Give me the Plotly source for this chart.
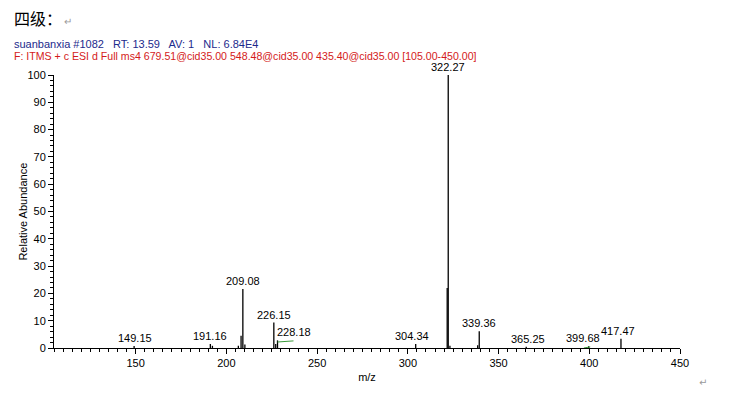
import plotly.graph_objects as go

# peak list (m/z, relative abundance)
peak_mz = [149.15, 191.16, 192.3, 206.6, 208.1, 209.08, 210.2, 226.15, 227.2,
           228.18, 304.34, 321.7, 322.27, 323.2, 338.5, 339.36, 365.25, 399.68, 417.47]
peak_int = [0.7, 1.5, 0.8, 0.8, 4.5, 21.6, 1.3, 9.3, 1.5,
            2.8, 1.5, 22.0, 100.0, 0.8, 1.0, 6.1, 0.5, 0.6, 3.4]

# labelled peaks and label offsets (px)
label_mz = [149.15, 191.16, 209.08, 226.15, 228.18, 304.34, 322.27, 339.36, 365.25, 399.68, 417.47]
label_int = [0.7, 1.5, 21.6, 9.3, 2.8, 1.5, 100.0, 6.1, 0.5, 0.6, 3.4]
label_dx = [1, 0, 0, 0, 16, -4, 0, 0, 2, -6, -3]

NB = "\u00a0"
header = f"suanbanxia #1082{NB*2} RT: 13.59{NB*2} AV: 1{NB*2} NL: 6.84E4"
filter_line = "F: ITMS + c ESI d Full ms4 679.51@cid35.00 548.48@cid35.00 435.40@cid35.00 [105.00-450.00]"

FONT = "Liberation Sans, Arial, sans-serif"

# stick spectrum as one line trace
xs, ys = [], []
for m, h in zip(peak_mz, peak_int):
    xs += [m, m, None]
    ys += [0, h, None]

fig = go.Figure()
fig.add_trace(go.Scatter(x=xs, y=ys, mode="lines",
                         line=dict(color="black", width=1.3),
                         hoverinfo="skip", showlegend=False))

for m, h, dx in zip(label_mz, label_int, label_dx):
    fig.add_annotation(x=m, y=h, text=f"{m:.2f}", showarrow=False,
                       xanchor="center", yanchor="bottom", xshift=dx, yshift=0,
                       font=dict(family=FONT, size=11, color="black"))

# green leader lines under shifted labels
for m, h, x2 in [(228.18, 2.8, 237.0), (397.0, 0.6, 400.5)]:
    fig.add_shape(type="line", x0=m, x1=x2, y0=h - 0.6, y1=h - 0.2,
                  line=dict(color="#3a9a3a", width=1))

# page body has an 8px margin, so the figure is 8px smaller
fig.update_layout(
    width=744, height=405,
    margin=dict(l=46, r=72, t=67, b=65),
    paper_bgcolor="white", plot_bgcolor="white",
    font=dict(family=FONT, size=11, color="black"),
    showlegend=False,
)

fig.update_xaxes(
    range=[105, 450], tickvals=[150, 200, 250, 300, 350, 400, 450],
    ticks="outside", ticklen=5, tickwidth=1, tickcolor="black",
    minor=dict(dtick=5, ticks="outside", ticklen=3, tickcolor="black"),
    showline=True, linecolor="black", linewidth=1,
    showgrid=False, zeroline=False, automargin=False,
    title=dict(text="m/z", standoff=5, font=dict(size=11)),
    tickfont=dict(size=11),
)
fig.update_yaxes(
    range=[0, 100], dtick=10,
    ticks="outside", ticklen=5, tickwidth=1, tickcolor="black",
    minor=dict(dtick=2, ticks="outside", ticklen=3, tickcolor="black"),
    showline=True, linecolor="black", linewidth=1,
    showgrid=False, zeroline=False, automargin=False,
    tickfont=dict(size=11),
)

# y axis title placed by hand
fig.add_annotation(xref="paper", yref="paper", x=-0.051, y=0.5,
                   xanchor="center", yanchor="middle", showarrow=False,
                   textangle=-90, text="Relative Abundance",
                   font=dict(family=FONT, size=11, color="black"))

# header texts
fig.add_annotation(xref="paper", yref="paper", x=-0.067, y=1.209,
                   xanchor="left", yanchor="middle", showarrow=False,
                   text="四级：<span style='color:#9a9a9a;font-size:10px'> ↵</span>",
                   font=dict(family="Noto Sans CJK SC", size=16, color="black"))
fig.add_annotation(xref="paper", yref="paper", x=-0.067, y=1.114,
                   xanchor="left", yanchor="middle", showarrow=False,
                   text=header, font=dict(family=FONT, size=11, color="#1c2a8c"))
fig.add_annotation(xref="paper", yref="paper", x=-0.067, y=1.071,
                   xanchor="left", yanchor="middle", showarrow=False,
                   text=filter_line, font=dict(family=FONT, size=10.6, color="#d41a1a"))
fig.add_annotation(xref="paper", yref="paper", x=1.037, y=-0.125,
                   xanchor="center", yanchor="middle", showarrow=False,
                   text="↵", font=dict(family="DejaVu Sans", size=10, color="#9a9a9a"))

fig.write_html("out.html")
